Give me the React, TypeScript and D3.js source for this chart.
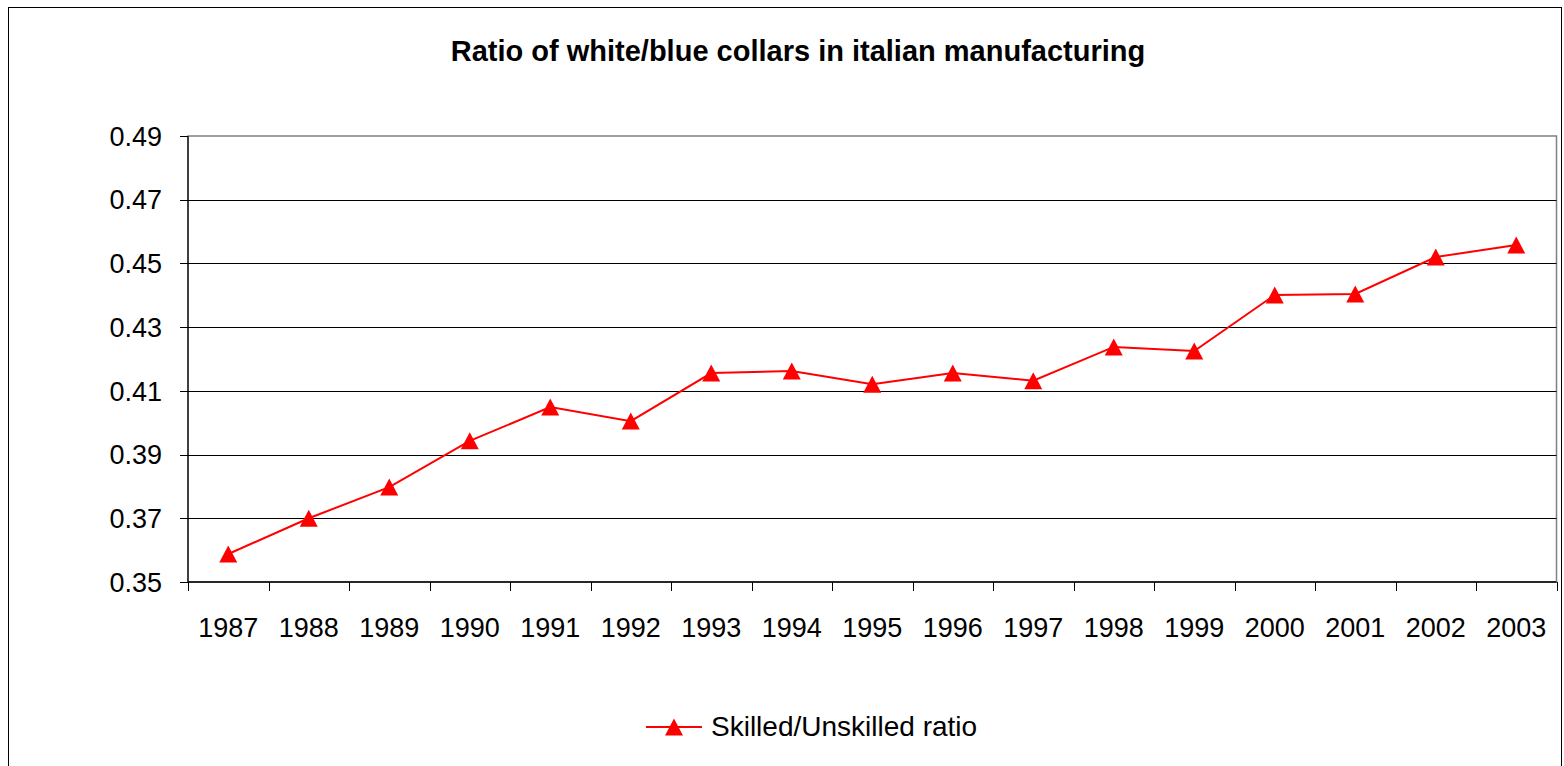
import React from "react";
import * as d3 from "d3";

const years = ["1987","1988","1989","1990","1991","1992","1993","1994","1995","1996","1997","1998","1999","2000","2001","2002","2003"];
const ratio = [0.3588,0.3700,0.3798,0.3943,0.4049,0.4005,0.4156,0.4162,0.4121,0.4156,0.4132,0.4238,0.4225,0.4401,0.4404,0.4520,0.4558];
const yTicks = [0.35,0.37,0.39,0.41,0.43,0.45,0.47,0.49];
const title = "Ratio of white/blue collars in italian manufacturing";
const seriesName = "Skilled/Unskilled ratio";

const W = 1564, H = 766;
const plot = { left: 188, right: 1556.5, top: 136, bottom: 582 };
const font = "'Liberation Sans', Arial, sans-serif";
const RED = "#ff0000";

// Marker: triangle roughly as tall as it is wide, centred on the data point
function trianglePath(w: number, h: number): string {
  const p = d3.path();
  p.moveTo(0, -h / 2);
  p.lineTo(w / 2, h / 2);
  p.lineTo(-w / 2, h / 2);
  p.closePath();
  return p.toString();
}

export default function App() {
  const x = d3.scaleBand<string>().domain(years).range([plot.left, plot.right]).padding(0);
  const y = d3.scaleLinear().domain([0.35, 0.49]).range([plot.bottom, plot.top]);
  const line = d3.line<number>()
    .x((_, i) => (x(years[i]) as number) + x.bandwidth() / 2)
    .y(d => y(d));
  const tri = trianglePath(18, 17);
  const boundaries = years.map(yr => x(yr) as number).concat([plot.right]);

  return (
    <svg width={W} height={H} style={{ position: "absolute", left: 0, top: 0, fontFamily: font }}>
      <rect x={0} y={0} width={W} height={H} fill="#fff" />
      <rect x={8.5} y={7.5} width={1553} height={H} fill="#fff" stroke="#000" strokeWidth={1} />
      <text x={798} y={61} textAnchor="middle" fontSize={29} fontWeight="bold" fill="#000">{title}</text>

      {/* plot area */}
      <rect x={plot.left} y={plot.top} width={plot.right - plot.left} height={plot.bottom - plot.top} fill="#fff" stroke="#808080" strokeWidth={1.5} />
      {yTicks.map(t => (
        <g key={t}>
          {t > 0.35 && t < 0.49 && (
            <line x1={plot.left} x2={plot.right} y1={Math.round(y(t)) + 0.5} y2={Math.round(y(t)) + 0.5} stroke="#000" strokeWidth={1} />
          )}
          <line x1={plot.left - 8} x2={plot.left} y1={Math.round(y(t)) + 0.5} y2={Math.round(y(t)) + 0.5} stroke="#000" strokeWidth={1} />
          <text x={162} y={y(t)} dy="0.36em" textAnchor="end" fontSize={27} fill="#000">{t.toFixed(2)}</text>
        </g>
      ))}
      {/* axes */}
      <line x1={plot.left} x2={plot.left} y1={plot.top} y2={plot.bottom} stroke="#000" strokeWidth={1.2} />
      <line x1={plot.left} x2={plot.right} y1={plot.bottom} y2={plot.bottom} stroke="#000" strokeWidth={1.5} />
      {boundaries.map((bx, i) => (
        <line key={i} x1={Math.round(bx) + 0.5} x2={Math.round(bx) + 0.5} y1={plot.bottom} y2={plot.bottom + 9} stroke="#000" strokeWidth={1} />
      ))}
      {years.map(yr => (
        <text key={yr} x={(x(yr) as number) + x.bandwidth() / 2} y={637} textAnchor="middle" fontSize={27} fill="#000">{yr}</text>
      ))}

      {/* series */}
      <path d={line(ratio) as string} fill="none" stroke={RED} strokeWidth={2} />
      {ratio.map((v, i) => (
        <path key={i} d={tri} fill={RED} transform={`translate(${(x(years[i]) as number) + x.bandwidth() / 2},${y(v)})`} />
      ))}

      {/* legend */}
      <line x1={646} x2={702} y1={727} y2={727} stroke={RED} strokeWidth={2} />
      <path d={tri} fill={RED} transform="translate(674,727)" />
      <text x={711} y={736} fontSize={28} fill="#000">{seriesName}</text>
    </svg>
  );
}
